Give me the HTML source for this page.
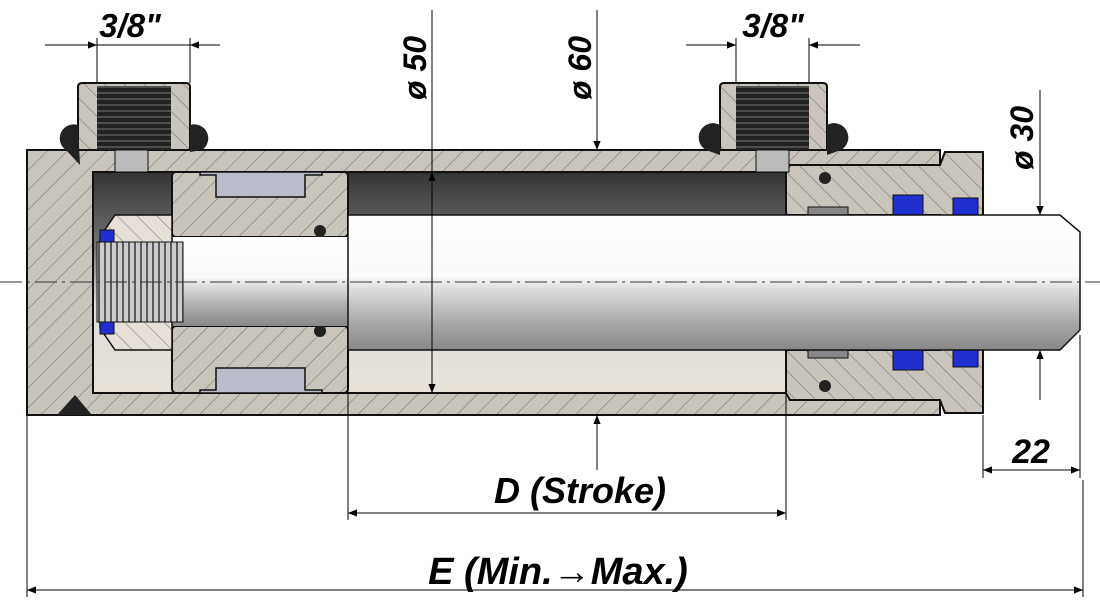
<!DOCTYPE html>
<html><head><meta charset="utf-8"><style>
html,body{margin:0;padding:0;background:#fff;width:1100px;height:602px;overflow:hidden}
svg{display:block}
text{font-family:"Liberation Sans",sans-serif;font-weight:bold;font-style:italic;fill:#000}
</style></head><body>
<svg width="1100" height="602" viewBox="0 0 1100 602" xmlns="http://www.w3.org/2000/svg">
<defs>
<pattern id="h" width="14" height="14" patternUnits="userSpaceOnUse" patternTransform="rotate(45)">
<rect width="14" height="14" fill="#c9c4bc"/><line x1="0" y1="0" x2="0" y2="14" stroke="#555" stroke-width="0.8"/></pattern>
<pattern id="h2" width="14" height="14" patternUnits="userSpaceOnUse" patternTransform="rotate(-45)">
<rect width="14" height="14" fill="#c9c4bc"/><line x1="0" y1="0" x2="0" y2="14" stroke="#555" stroke-width="0.8"/></pattern>
<pattern id="hn" width="14" height="14" patternUnits="userSpaceOnUse" patternTransform="rotate(-45)">
<rect width="14" height="14" fill="#e6e0d8"/><line x1="0" y1="0" x2="0" y2="14" stroke="#555" stroke-width="0.8"/></pattern>
<pattern id="th" width="6" height="6" patternUnits="userSpaceOnUse">
<rect width="6" height="6" fill="#222"/><line x1="0" y1="3" x2="6" y2="3" stroke="#777" stroke-width="1"/></pattern>
<pattern id="tv" width="6" height="6" patternUnits="userSpaceOnUse">
<rect width="6" height="6" fill="#ccc"/><line x1="3" y1="0" x2="3" y2="6" stroke="#333" stroke-width="1.5"/></pattern>
<linearGradient id="rod" x1="0" y1="0" x2="0" y2="1">
<stop offset="0" stop-color="#fff"/><stop offset="0.45" stop-color="#fafafa"/><stop offset="0.55" stop-color="#ddd"/><stop offset="0.8" stop-color="#a8a8a8"/><stop offset="1" stop-color="#888"/></linearGradient>
<linearGradient id="bore" x1="0" y1="0" x2="0" y2="1">
<stop offset="0" stop-color="#333"/><stop offset="0.35" stop-color="#777"/><stop offset="0.6" stop-color="#ddd"/><stop offset="1" stop-color="#e8e2d8"/></linearGradient>
<marker id="a" viewBox="0 0 10 10" refX="10" refY="5" markerWidth="18" markerHeight="9" orient="auto-start-reverse" markerUnits="userSpaceOnUse"><path d="M0,1 L10,5 L0,9 z" fill="#000"/></marker>
</defs>

<rect x="93" y="172" width="700" height="221" fill="url(#bore)"/>
<path d="M27,150 H940 V172 H93 V393 H940 V415 H27 Z" fill="url(#h)" stroke="#111" stroke-width="2"/>
<path d="M786,172 L790,165 H940 L945,152 H983 V413 H945 L940,400 H790 L786,393 V350 H940 V215 H786 Z" fill="url(#h2)" stroke="#111" stroke-width="2"/>
<rect x="808" y="207" width="40" height="8" fill="#888" stroke="#111"/>
<rect x="808" y="350" width="40" height="8" fill="#888" stroke="#111"/>
<rect x="893" y="195" width="30" height="20" fill="#1f2fd0" stroke="#111"/>
<rect x="953" y="198" width="25" height="17" fill="#1f2fd0" stroke="#111"/>
<rect x="893" y="350" width="30" height="20" fill="#1f2fd0" stroke="#111"/>
<rect x="953" y="350" width="25" height="17" fill="#1f2fd0" stroke="#111"/>
<circle cx="825" cy="178" r="6" fill="#222"/><circle cx="825" cy="386" r="6" fill="#222"/>
<rect x="172" y="172" width="176" height="65" rx="4" fill="url(#h)" stroke="#111" stroke-width="2"/>
<rect x="172" y="326" width="176" height="67" rx="4" fill="url(#h)" stroke="#111" stroke-width="2"/>
<path d="M200,175 H216 V197 H305 V175 H322 V172 H200 Z" fill="#b8bccb" stroke="#111" stroke-width="1.5"/>
<path d="M200,390 H216 V368 H305 V390 H322 V393 H200 Z" fill="#b8bccb" stroke="#111" stroke-width="1.5"/>
<circle cx="320" cy="231" r="6" fill="#222"/><circle cx="320" cy="331" r="6" fill="#222"/>
<rect x="172" y="237" width="180" height="89" fill="url(#rod)"/>
<path d="M348,215 H1060 L1080,232 V330 L1060,350 H348 Z" fill="url(#rod)" stroke="#111" stroke-width="1.5"/>
<path d="M100,237 L115,215 H172 V350 H115 L100,328 Z" fill="url(#hn)" stroke="#111" stroke-width="1.5"/>
<rect x="97" y="242" width="86" height="80" fill="url(#tv)" stroke="#111"/>
<rect x="100" y="230" width="14" height="12" fill="#1f2fd0" stroke="#111"/>
<rect x="100" y="322" width="14" height="12" fill="#1f2fd0" stroke="#111"/>
<g>
<path d="M78,87 Q78,83 82,83 H186 Q190,83 190,87 V150 H78 Z" fill="url(#h2)" stroke="#111" stroke-width="2"/>
<rect x="97" y="86" width="74" height="64" fill="url(#th)"/>
<rect x="115" y="150" width="33" height="22" fill="#bbb" stroke="#111"/>
<path d="M78,125 A14,14 0 0 0 66,150 L80,165 L78,125Z" fill="#222"/>
<path d="M190,125 A14,14 0 0 1 202,150 L190,152Z" fill="#222"/>
<path d="M57,415 L75,395 L92,415 Z" fill="#222"/>
</g>
<g>
<path d="M720,87 Q720,83 724,83 H823 Q827,83 827,87 V150 H720 Z" fill="url(#h2)" stroke="#111" stroke-width="2"/>
<rect x="736" y="86" width="73" height="64" fill="url(#th)"/>
<rect x="756" y="150" width="33" height="22" fill="#bbb" stroke="#111"/>
<path d="M720,125 A14,14 0 0 0 706,150 L720,155Z" fill="#222"/>
<path d="M827,125 A14,14 0 0 1 841,150 L827,155Z" fill="#222"/>
</g>
<line x1="0" y1="282" x2="1100" y2="282" stroke="#333" stroke-width="1" stroke-dasharray="22,5,3,5"/>

<g stroke="#000" stroke-width="1" fill="none">
<line x1="97" y1="83" x2="97" y2="38"/><line x1="190" y1="83" x2="190" y2="38"/>
<line x1="45" y1="45" x2="97" y2="45" marker-end="url(#a)"/><line x1="190" y1="45" x2="220" y2="45" marker-start="url(#a)"/>
<line x1="97" y1="45" x2="190" y2="45"/>
<line x1="736" y1="83" x2="736" y2="38"/><line x1="809" y1="83" x2="809" y2="38"/>
<line x1="686" y1="45" x2="736" y2="45" marker-end="url(#a)"/><line x1="809" y1="45" x2="860" y2="45" marker-start="url(#a)"/>
<line x1="432" y1="10" x2="432" y2="393" marker-end="url(#a)"/>
<line x1="432" y1="200" x2="432" y2="172" marker-end="url(#a)"/>
<line x1="597" y1="10" x2="597" y2="150" marker-end="url(#a)"/>
<line x1="597" y1="470" x2="597" y2="415" marker-end="url(#a)"/>
<line x1="1040" y1="90" x2="1040" y2="215" marker-end="url(#a)"/>
<line x1="1040" y1="400" x2="1040" y2="350" marker-end="url(#a)"/>
<line x1="983" y1="415" x2="983" y2="478"/><line x1="1080" y1="335" x2="1080" y2="478"/>
<line x1="983" y1="470" x2="1080" y2="470" marker-start="url(#a)" marker-end="url(#a)"/>
<line x1="348" y1="350" x2="348" y2="520"/><line x1="786" y1="393" x2="786" y2="520"/>
<line x1="348" y1="513" x2="786" y2="513" marker-start="url(#a)" marker-end="url(#a)"/>
<line x1="27" y1="415" x2="27" y2="597"/><line x1="1083" y1="480" x2="1083" y2="597"/>
<line x1="27" y1="590" x2="1083" y2="590" marker-start="url(#a)" marker-end="url(#a)"/>
</g>
<text x="130" y="37" font-size="33" text-anchor="middle">3/8"</text>
<text x="773" y="37" font-size="33" text-anchor="middle">3/8"</text>
<text transform="translate(426,100) rotate(-90)" font-size="32">ø 50</text>
<text transform="translate(591,100) rotate(-90)" font-size="32">ø 60</text>
<text transform="translate(1033,170) rotate(-90)" font-size="32">ø 30</text>
<text x="1031" y="463" font-size="34" text-anchor="middle">22</text>
<text x="580" y="503" font-size="36" text-anchor="middle">D (Stroke)</text>
<text x="558" y="584" font-size="38" text-anchor="middle">E (Min.→Max.)</text>
</svg>
</body></html>
